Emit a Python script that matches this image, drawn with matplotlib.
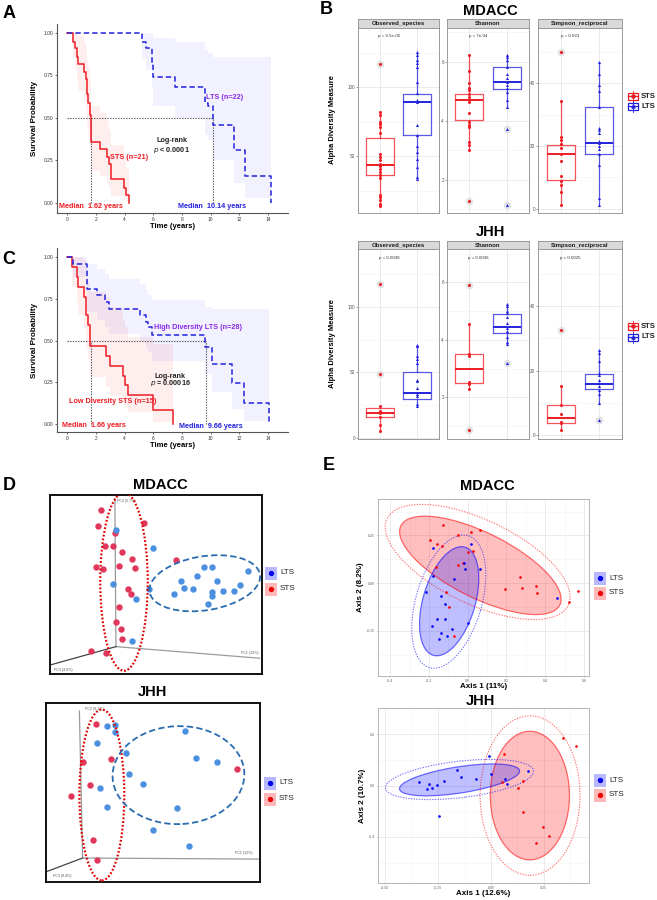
import numpy as np
import matplotlib
matplotlib.use("Agg")
import matplotlib.pyplot as plt
from matplotlib.patches import Ellipse, Rectangle

plt.rcParams["font.family"] = ["Liberation Sans", "DejaVu Sans"]
NARROW = ["Liberation Sans Narrow", "Liberation Sans", "DejaVu Sans"]

W, H = 657, 900
RED = "#ee1c24"
BLUE = "#2222dd"
PURPLE = "#8a2be2"
PT_RED = "#e2375c"
PT_BLUE = "#4b8fe0"

# ---------------- A: Kaplan-Meier, all patients ----------------
a_sts_t = [0, 0.42, 0.52, 0.66, 0.75, 1.13, 1.27, 1.36, 1.46, 1.55, 1.62, 2.3, 2.78, 2.94, 3.06, 3.93, 4.07, 4.3]
a_sts_s = [1.0, 0.95, 0.91, 0.86, 0.82, 0.77, 0.73, 0.64, 0.59, 0.52, 0.36, 0.32, 0.27, 0.23, 0.14, 0.09, 0.045, 0.0]
a_sts_lo = [1.0, 0.86, 0.79, 0.72, 0.66, 0.60, 0.55, 0.45, 0.40, 0.33, 0.19, 0.16, 0.12, 0.09, 0.04, 0.02, 0.005, 0.0]
a_sts_hi = [1.0, 1.0, 1.0, 1.0, 0.98, 0.95, 0.92, 0.85, 0.80, 0.74, 0.57, 0.53, 0.48, 0.43, 0.34, 0.27, 0.20, 0.20]
a_lts_t = [0, 5.18, 5.5, 5.9, 6.0, 7.5, 9.6, 9.8, 10.14, 11.65, 12.4, 14.2]
a_lts_s = [1.0, 0.95, 0.91, 0.83, 0.74, 0.68, 0.59, 0.57, 0.46, 0.31, 0.16, 0.0]
a_lts_lo = [1.0, 0.85, 0.78, 0.68, 0.57, 0.50, 0.40, 0.37, 0.25, 0.12, 0.03, 0.03]
a_lts_hi = [1.0, 1.0, 1.0, 1.0, 0.97, 0.95, 0.90, 0.88, 0.86, 0.86, 0.86, 0.86]
a_medians = [1.62, 10.14]

# ---------------- C: Kaplan-Meier, diversity groups ----------------
c_sts_t = [0, 0.35, 0.66, 0.75, 1.13, 1.3, 1.46, 1.6, 2.73, 3.0, 3.9, 4.0, 4.24, 6.0, 7.4]
c_sts_s = [1.0, 0.94, 0.88, 0.82, 0.76, 0.65, 0.59, 0.47, 0.41, 0.35, 0.29, 0.235, 0.175, 0.085, 0.0]
c_sts_lo = [1.0, 0.82, 0.73, 0.65, 0.57, 0.45, 0.39, 0.28, 0.22, 0.17, 0.13, 0.10, 0.07, 0.01, 0.01]
c_sts_hi = [1.0, 1.0, 1.0, 1.0, 0.98, 0.90, 0.85, 0.79, 0.76, 0.70, 0.62, 0.58, 0.52, 0.48, 0.48]
c_lts_t = [0, 0.42, 1.36, 2.1, 2.6, 2.94, 5.1, 5.46, 5.65, 5.93, 9.6, 10.07, 11.5, 12.35, 14.1]
c_lts_s = [1.0, 0.96, 0.81, 0.77, 0.73, 0.69, 0.65, 0.61, 0.58, 0.53, 0.46, 0.36, 0.245, 0.125, 0.0]
c_lts_lo = [1.0, 0.88, 0.67, 0.62, 0.58, 0.54, 0.50, 0.46, 0.43, 0.38, 0.30, 0.19, 0.09, 0.015, 0.015]
c_lts_hi = [1.0, 1.0, 0.96, 0.93, 0.90, 0.87, 0.84, 0.80, 0.77, 0.74, 0.70, 0.69, 0.69, 0.69, 0.69]
c_medians = [1.66, 9.66]

# ---------------- B: alpha diversity (box = whislo, q1, med, q3, whishi) ----------------
mdacc_obs_sts = [117, 82, 80, 75, 73, 71, 66.5, 51.5, 49.5, 47, 44.5, 43, 41, 38.5, 36, 34, 21.5, 20.5, 18, 15.5, 14]
mdacc_obs_sts_box = [14, 36.5, 43.5, 63, 82]
mdacc_obs_sts_out = [117]
mdacc_obs_lts = [125.5, 123.5, 120, 117.5, 115, 104, 95.5, 91, 89.5, 72.5, 65.5, 57.5, 53, 48, 42, 35, 33.5]
mdacc_obs_lts_box = [33.5, 65.3, 89, 95, 125.5]
mdacc_obs_lts_out = []
mdacc_sha_sts = [6.25, 5.7, 5.27, 5.1, 5.04, 4.93, 4.8, 4.7, 4.64, 4.28, 3.98, 3.87, 3.8, 3.3, 3.2, 3.0, 1.27]
mdacc_sha_sts_box = [3.0, 4.03, 4.7, 4.9, 6.25]
mdacc_sha_sts_out = [1.27]
mdacc_sha_lts = [6.25, 6.17, 6.06, 5.83, 5.58, 5.44, 5.32, 5.21, 5.13, 4.99, 4.7, 4.46, 3.71, 1.15]
mdacc_sha_lts_box = [4.46, 5.08, 5.33, 5.83, 6.25]
mdacc_sha_lts_out = [3.71, 1.15]
mdacc_sim_sts = [49.9, 34.2, 22.9, 22, 20.5, 19.5, 17.6, 15.2, 10.4, 8.8, 7.7, 5.3, 1.4]
mdacc_sim_sts_box = [1.4, 9.3, 17.6, 20.2, 34.2]
mdacc_sim_sts_out = [49.9]
mdacc_sim_lts = [46.6, 43, 39.5, 37.4, 32.4, 25.7, 25.2, 24.1, 21.5, 20.8, 20, 18.9, 17.6, 13.9, 3.5, 1.1]
mdacc_sim_lts_box = [1.1, 17.6, 20.8, 32.3, 46.6]
mdacc_sim_lts_out = []

jhh_obs_sts = [117, 48.8, 24.2, 20.4, 19, 15.7, 10, 5.6]
jhh_obs_sts_box = [5.6, 15.7, 19.3, 22.9, 24.2]
jhh_obs_sts_out = [117, 48.8]
jhh_obs_lts = [71.2, 70, 62.8, 60.3, 57.2, 44.5, 43.2, 38, 33.8, 32.3, 26.2, 24.2]
jhh_obs_lts_box = [24.2, 30, 34, 50.4, 71.2]
jhh_obs_lts_out = []
jhh_sha_sts = [5.92, 4.56, 3.5, 3.44, 2.54, 2.46, 2.29, 0.88]
jhh_sha_sts_box = [2.29, 2.5, 2.97, 3.5, 4.56]
jhh_sha_sts_out = [5.92, 0.88]
jhh_sha_lts = [5.26, 5.17, 5.02, 4.94, 4.8, 4.59, 4.42, 4.3, 4.1, 3.91, 3.84, 3.2]
jhh_sha_lts_box = [3.84, 4.25, 4.44, 4.91, 5.26]
jhh_sha_lts_out = [3.2]
jhh_sim_sts = [32.5, 15.1, 9.2, 6.3, 3.9, 3.5, 1.4]
jhh_sim_sts_box = [1.4, 3.6, 5.1, 9.4, 15.1]
jhh_sim_sts_out = [32.5]
jhh_sim_lts = [26.3, 25.4, 23.1, 19.2, 18.6, 17.1, 16, 15.2, 13.9, 12.7, 9.8, 4.5]
jhh_sim_lts_box = [9.8, 14.2, 15.9, 19, 26.3]
jhh_sim_lts_out = [4.5]

facet_names = ["Observed_species", "Shannon", "Simpson_reciprocal"]
mdacc_p = ["p = 9.5e-05", "p = 7e-04", "p = 0.023"]
jhh_p = ["p = 0.0038", "p = 0.0036", "p = 0.0025"]

# ---------------- D: 3D PCoA (positions inside the box, 0..1) ----------------
d1_red_u = [0.240, 0.228, 0.443, 0.306, 0.259, 0.295, 0.338, 0.386, 0.593, 0.217, 0.248, 0.327, 0.403, 0.369, 0.380, 0.325, 0.309, 0.334, 0.338, 0.195, 0.264]
d1_red_v = [0.916, 0.829, 0.845, 0.790, 0.717, 0.715, 0.683, 0.642, 0.637, 0.598, 0.585, 0.605, 0.590, 0.473, 0.445, 0.372, 0.292, 0.250, 0.194, 0.130, 0.119]
d1_blue_u = [0.309, 0.487, 0.725, 0.765, 0.934, 0.694, 0.620, 0.788, 0.298, 0.633, 0.675, 0.466, 0.895, 0.763, 0.816, 0.868, 0.584, 0.765, 0.408, 0.747, 0.389]
d1_blue_v = [0.803, 0.706, 0.600, 0.596, 0.574, 0.546, 0.520, 0.520, 0.503, 0.480, 0.473, 0.477, 0.495, 0.460, 0.462, 0.464, 0.449, 0.438, 0.419, 0.393, 0.182]
d1_origin = [0.311, 0.153]
d1_axis_ends = [[0.306, 0.981], [0.989, 0.088], [0.0, 0.050]]
d1_axis_labels = ["PC2 (5.7%)", "PC1 (12%)", "PC3 (4.9%)"]

d2_red_u = [0.233, 0.173, 0.305, 0.207, 0.115, 0.891, 0.221, 0.238]
d2_red_v = [0.885, 0.670, 0.685, 0.544, 0.479, 0.629, 0.236, 0.124]
d2_blue_u = [0.285, 0.323, 0.323, 0.650, 0.236, 0.372, 0.700, 0.799, 0.390, 0.453, 0.253, 0.285, 0.610, 0.499, 0.666]
d2_blue_v = [0.872, 0.878, 0.840, 0.842, 0.777, 0.720, 0.694, 0.670, 0.603, 0.549, 0.523, 0.421, 0.414, 0.288, 0.202]
d2_origin = [0.171, 0.134]
d2_axis_ends = [[0.156, 0.955], [0.992, 0.128], [0.005, 0.059]]
d2_axis_labels = ["PC2 (9.1%)", "PC1 (12%)", "PC3 (8.4%)"]

# ---------------- E: 2D PCoA ----------------
e1_red_x = [-0.127, -0.197, -0.160, -0.132, -0.050, 0.017, 0.063, 0.003, 0.029, -0.026, -0.050, -0.166, -0.111, -0.098, -0.069, 0.194, 0.269, 0.280, 0.352, 0.355, 0.523, 0.571]
e1_red_y = [0.307, 0.228, 0.205, 0.193, 0.253, 0.267, 0.277, 0.161, 0.168, 0.105, 0.093, 0.084, -0.049, -0.126, -0.275, -0.030, 0.032, -0.025, -0.016, -0.051, -0.100, -0.042]
e1_blue_x = [-0.182, 0.017, -0.017, -0.014, 0.065, -0.177, -0.072, -0.214, -0.136, -0.115, -0.117, -0.161, 0.002, -0.185, -0.139, -0.106, -0.079, -0.146, 0.461]
e1_blue_y = [0.182, 0.207, 0.107, 0.074, 0.072, 0.039, 0.021, -0.046, -0.070, -0.112, -0.189, -0.188, -0.207, -0.226, -0.260, -0.275, -0.242, -0.295, -0.079]

e2_red_x = [0.340, 0.403, 0.063, 0.051, 0.153, 0.128, 0.150, 0.245, 0.274, 0.215]
e2_red_y = [0.369, 0.309, 0.244, 0.029, 0.039, -0.023, -0.203, -0.325, -0.390, -0.444]
e2_blue_x = [-0.340, -0.293, -0.305, -0.280, -0.256, -0.223, -0.161, -0.142, -0.071, -0.011, 0.000, 0.068, 0.074, 0.174, -0.248]
e2_blue_y = [0.029, 0.010, -0.029, -0.023, 0.008, 0.034, 0.122, 0.065, 0.052, 0.231, 0.091, 0.049, 0.013, 0.112, -0.236]

fig = plt.figure(figsize=(W / 100, H / 100), dpi=100)
fig.patch.set_facecolor("white")


def px_axes(x0, y0, x1, y1):
    return fig.add_axes([x0 / W, 1 - y1 / H, (x1 - x0) / W, (y1 - y0) / H])


# overlay in pixel coordinates for labels / legends
ov = fig.add_axes([0, 0, 1, 1])
ov.set_xlim(0, W)
ov.set_ylim(H, 0)
ov.axis("off")
ov.set_zorder(20)
ov.patch.set_alpha(0)


def km_panel(box, ylim, sts, lts, medians, texts):
    ax = px_axes(*box)
    t, s, lo, hi = sts
    ax.fill_between(t, lo, hi, step="post", color="#ff3030", alpha=0.08, lw=0)
    t2, s2, lo2, hi2 = lts
    ax.fill_between(t2, lo2, hi2, step="post", color="#5050ff", alpha=0.08, lw=0)
    ax.plot([0, medians[1]], [0.5, 0.5], ls=(0, (1.2, 1.2)), color="#555555", lw=0.8)
    for m in medians:
        ax.plot([m, m], [0, 0.5], ls=(0, (1.2, 1.2)), color="#555555", lw=0.8)
    ax.step(t, s, where="post", color=RED, lw=1.1)
    ax.step(t2, s2, where="post", color=BLUE, lw=1.1, ls=(0, (3.5, 2)))
    ax.set_xlim(-0.72, 15.4)
    ax.set_ylim(*ylim)
    ax.set_xticks(range(0, 15, 2))
    ax.set_yticks([0, 0.25, 0.5, 0.75, 1.0])
    ax.set_yticklabels(["0.00", "0.25", "0.50", "0.75", "1.00"])
    ax.tick_params(labelsize=3.5, length=1.5, width=0.5, pad=1.2, colors="#333333")
    for sp in ["top", "right"]:
        ax.spines[sp].set_visible(False)
    for sp in ["left", "bottom"]:
        ax.spines[sp].set_color("#555555")
        ax.spines[sp].set_linewidth(0.8)
    ax.set_ylabel("Survival Probability", fontsize=5.8, fontweight="bold", labelpad=4)
    ax.set_xlabel("Time (years)", fontsize=5.5, fontweight="bold", labelpad=1)
    for x, y, txt, col in texts:
        ax.text(x, y, txt, color=col, fontsize=5.2, fontweight="bold", family=NARROW,
                ha="center", va="center")
    return ax


km_panel((57, 24, 288, 213), (-0.059, 1.053),
         (a_sts_t, a_sts_s, a_sts_lo, a_sts_hi), (a_lts_t, a_lts_s, a_lts_lo, a_lts_hi), a_medians,
         [(11.0, 0.62, "LTS (n=22)", PURPLE), (7.3, 0.367, "Log-rank", "#222222"),
          (7.25, 0.31, r"$\it{p}$ < 0.0001", "#222222"), (4.3, 0.265, "STS (n=21)", RED),
          (1.62, -0.02, "Median  1.62 years", RED), (10.1, -0.02, "Median  10.14 years", BLUE)])
km_panel((57, 248, 288, 432), (-0.048, 1.054),
         (c_sts_t, c_sts_s, c_sts_lo, c_sts_hi), (c_lts_t, c_lts_s, c_lts_lo, c_lts_hi), c_medians,
         [(9.15, 0.577, "High Diversity LTS (n=28)", PURPLE), (7.2, 0.287, "Log-rank", "#222222"),
          (7.2, 0.244, r"$\it{p}$ = 0.00016", "#222222"), (3.2, 0.134, "Low Diversity STS (n=15)", RED),
          (1.85, -0.01, "Median  1.66 years", RED), (10.0, -0.014, "Median  9.66 years", BLUE)])


# ---------------- B ----------------
def box_facet(xs, strip_y, body_y, name, ptxt, groups, ylim, yticks):
    ax = px_axes(xs[0], body_y[0], xs[1], body_y[1])
    ax.set_xlim(0.4, 2.6)
    ax.set_ylim(*ylim)
    minor = [(a + b) / 2 for a, b in zip(yticks[:-1], yticks[1:])]
    step = yticks[1] - yticks[0]
    minor = [yticks[0] - step / 2] + minor + [yticks[-1] + step / 2]
    for m in minor:
        ax.axhline(m, color="#f2f2f2", lw=0.4, zorder=0)
    for m in yticks:
        ax.axhline(m, color="#e6e6e6", lw=0.6, zorder=0)
    for xg in [1, 2]:
        ax.axvline(xg, color="#e6e6e6", lw=0.6, zorder=0)
    for pos, (pts, box, out, col, mk) in enumerate(groups, start=1):
        st = dict(whislo=box[0], q1=box[1], med=box[2], q3=box[3], whishi=box[4], fliers=[])
        ax.bxp([st], positions=[pos], widths=0.75, showcaps=False, showfliers=False,
               boxprops=dict(color=col, lw=0.9, alpha=0.75),
               whiskerprops=dict(color=col, lw=0.9, alpha=0.75),
               medianprops=dict(color=col, lw=1.4))
        if out:
            ax.plot([pos] * len(out), out, "o", ms=5.5, color="#dddddd", alpha=0.8, mec="none", zorder=3)
        ax.plot([pos] * len(pts), pts, mk, ms=2.2, color=col, mec="none", zorder=4)
    ax.set_xticks([])
    ax.set_yticks(yticks)
    ax.tick_params(axis="y", labelsize=3.3, length=1.2, width=0.4, pad=1, colors="#555555")
    for sp in ax.spines.values():
        sp.set_color("#9a9a9a")
        sp.set_linewidth(0.7)
    ax.text(0.38, 0.955, ptxt, transform=ax.transAxes, fontsize=3.2, ha="center", va="center", color="#333333")
    sa = px_axes(xs[0], strip_y[0], xs[1], strip_y[1])
    sa.set_facecolor("#d9d9d9")
    sa.set_xticks([])
    sa.set_yticks([])
    for sp in sa.spines.values():
        sp.set_color("#9a9a9a")
        sp.set_linewidth(0.7)
    sa.text(0.5, 0.45, name, transform=sa.transAxes, ha="center", va="center", fontsize=4.3, fontweight="bold",
            color="#1a1a1a")


facet_x = [(358, 439), (447, 529), (538, 622)]
mdacc_groups = [
    [(mdacc_obs_sts, mdacc_obs_sts_box, mdacc_obs_sts_out, RED, "o"), (mdacc_obs_lts, mdacc_obs_lts_box, mdacc_obs_lts_out, BLUE, "^")],
    [(mdacc_sha_sts, mdacc_sha_sts_box, mdacc_sha_sts_out, RED, "o"), (mdacc_sha_lts, mdacc_sha_lts_box, mdacc_sha_lts_out, BLUE, "^")],
    [(mdacc_sim_sts, mdacc_sim_sts_box, mdacc_sim_sts_out, RED, "o"), (mdacc_sim_lts, mdacc_sim_lts_box, mdacc_sim_lts_out, BLUE, "^")],
]
jhh_groups = [
    [(jhh_obs_sts, jhh_obs_sts_box, jhh_obs_sts_out, RED, "o"), (jhh_obs_lts, jhh_obs_lts_box, jhh_obs_lts_out, BLUE, "^")],
    [(jhh_sha_sts, jhh_sha_sts_box, jhh_sha_sts_out, RED, "o"), (jhh_sha_lts, jhh_sha_lts_box, jhh_sha_lts_out, BLUE, "^")],
    [(jhh_sim_sts, jhh_sim_sts_box, jhh_sim_sts_out, RED, "o"), (jhh_sim_lts, jhh_sim_lts_box, jhh_sim_lts_out, BLUE, "^")],
]
mdacc_ylims = [(8.7, 143), (0.88, 7.15), (-1.3, 57.5)]
jhh_ylims = [(-0.8, 144), (0.55, 7.16), (-1.35, 57.9)]
mdacc_ticks = [[50, 100], [2, 4, 6], [0, 20, 40]]
jhh_ticks = [[0, 50, 100], [2, 4, 6], [0, 20, 40]]

for i in range(3):
    box_facet(facet_x[i], (19, 28), (28, 213), facet_names[i], mdacc_p[i], mdacc_groups[i], mdacc_ylims[i], mdacc_ticks[i])
    box_facet(facet_x[i], (241, 249), (249, 439), facet_names[i], jhh_p[i], jhh_groups[i], jhh_ylims[i], jhh_ticks[i])

for yc in [120, 343]:
    ov.text(333, yc, "Alpha Diversity Measure", rotation=90, fontsize=5.5, fontweight="bold", ha="center", va="center")


def box_legend(x, y, col, mk, label):
    ov.add_patch(Rectangle((x, y - 3.5), 10, 7, fill=False, ec=col, lw=0.9))
    ov.plot([x, x + 10], [y, y], color=col, lw=0.9)
    ov.plot([x + 5, x + 5], [y - 5.5, y + 5.5], color=col, lw=0.6)
    ov.plot([x + 5], [y], mk, color=col, ms=2.3)
    ov.text(x + 13, y, label, fontsize=5.5, fontweight="bold", ha="left", va="center", color="#222222")


box_legend(628, 96, RED, "o", "STS")
box_legend(628, 106, BLUE, "^", "LTS")
box_legend(628, 326, RED, "o", "STS")
box_legend(628, 337, BLUE, "^", "LTS")


# ---------------- D ----------------
def pcoa3d(box, red, blue, origin, ends, labels, label_pos, ell_red, ell_blue):
    ax = px_axes(*box)
    ax.set_xlim(0, 1)
    ax.set_ylim(0, 1)
    ax.set_xticks([])
    ax.set_yticks([])
    for sp in ax.spines.values():
        sp.set_color("#111111")
        sp.set_linewidth(1.4)
    for (ex, ey), c in zip(ends, ["#9a9a9a", "#9a9a9a", "#444444"]):
        ax.plot([origin[0], ex], [origin[1], ey], color=c, lw=0.9, zorder=1)
    for (lx, ly), txt in zip(label_pos, labels):
        ax.text(lx, ly, txt, fontsize=2.6, color="#555555", ha="center", va="center")
    ax.plot(red[0], red[1], "o", ms=4.6, color=PT_RED, mec="none", zorder=3)
    ax.plot(blue[0], blue[1], "o", ms=4.6, color=PT_BLUE, mec="none", zorder=3)
    cx, cy, w, h, a = ell_red
    ax.add_patch(Ellipse((cx, cy), w, h, angle=a, fill=False, ec="#e00000", lw=1.6, ls=(0, (0.8, 0.9)), zorder=4))
    cx, cy, w, h, a = ell_blue
    ax.add_patch(Ellipse((cx, cy), w, h, angle=a, fill=False, ec="#2b6cb0", lw=1.3, ls=(0, (3.5, 1.8)), zorder=4))
    return ax


pcoa3d((50, 495, 262, 674), (d1_red_u, d1_red_v), (d1_blue_u, d1_blue_v), d1_origin, d1_axis_ends,
       d1_axis_labels, [(0.361, 0.968), (0.942, 0.119), (0.063, 0.022)],
       (0.349, 0.516, 0.224, 0.996, 0), (0.730, 0.507, 0.53, 0.30, 12))
pcoa3d((46, 703, 260, 882), (d2_red_u, d2_red_v), (d2_blue_u, d2_blue_v), d2_origin, d2_axis_ends,
       d2_axis_labels, [(0.226, 0.968), (0.922, 0.161), (0.075, 0.031)],
       (0.261, 0.486, 0.21, 0.955, 0), (0.619, 0.597, 0.616, 0.547, 4))


def dot_legend(x, y, fillc, dotc, label):
    ov.add_patch(Rectangle((x, y - 6.5), 12, 13, color=fillc, lw=0))
    ov.plot([x + 6], [y], "o", ms=2.8, color=dotc)
    ov.text(x + 15, y, label, fontsize=5.8, ha="left", va="center", color="#222222")


dot_legend(265, 573, "#b8b8ff", "#0000ee", "LTS")
dot_legend(265, 589, "#ffb8b8", "#ee0000", "STS")
dot_legend(264, 783, "#b8b8ff", "#0000ee", "LTS")
dot_legend(264, 799, "#ffb8b8", "#ee0000", "STS")


# ---------------- E ----------------
def pcoa2d(box, xlim, ylim, xticks, xtl, yticks, ytl, red, blue, ells, xlabel, ylabel):
    ax = px_axes(*box)
    ax.set_xlim(*xlim)
    ax.set_ylim(*ylim)
    xm = [(a + b) / 2 for a, b in zip(xticks[:-1], xticks[1:])]
    ym = [(a + b) / 2 for a, b in zip(yticks[:-1], yticks[1:])]
    dx = xticks[1] - xticks[0]
    dy = yticks[1] - yticks[0]
    for m in [xticks[0] - dx / 2] + xm + [xticks[-1] + dx / 2]:
        ax.axvline(m, color="#f3f3f3", lw=0.4, zorder=0)
    for m in [yticks[0] - dy / 2] + ym + [yticks[-1] + dy / 2]:
        ax.axhline(m, color="#f3f3f3", lw=0.4, zorder=0)
    for m in xticks:
        ax.axvline(m, color="#e8e8e8", lw=0.6, zorder=0)
    for m in yticks:
        ax.axhline(m, color="#e8e8e8", lw=0.6, zorder=0)
    for (cx, cy, w, h, a), col, kind in ells:
        if kind == "fill":
            ax.add_patch(Ellipse((cx, cy), w, h, angle=a, fc=col, alpha=0.25, ec="none", zorder=1))
            ax.add_patch(Ellipse((cx, cy), w, h, angle=a, fill=False, ec=col, alpha=0.55, lw=0.9, zorder=2))
        else:
            ax.add_patch(Ellipse((cx, cy), w, h, angle=a, fill=False, ec=col, alpha=0.55, lw=0.8,
                                 ls=(0, (1.2, 1.2)), zorder=2))
    ax.plot(red[0], red[1], "o", ms=1.9, color="#ff0000", mec="none", zorder=3)
    ax.plot(blue[0], blue[1], "o", ms=1.9, color="#0000ff", mec="none", zorder=3)
    ax.set_xticks(xticks)
    ax.set_xticklabels(xtl)
    ax.set_yticks(yticks)
    ax.set_yticklabels(ytl)
    ax.tick_params(labelsize=2.6, length=1, width=0.4, pad=1, colors="#666666")
    for sp in ax.spines.values():
        sp.set_color("#b5b5b5")
        sp.set_linewidth(0.7)
    ax.set_xlabel(xlabel, fontsize=5.8, fontweight="bold", labelpad=0.5)
    ax.set_ylabel(ylabel, fontsize=5.8, fontweight="bold", labelpad=2)
    return ax


pcoa2d((378, 499, 589, 676), (-0.4635, 0.626), (-0.487, 0.441),
       [-0.4, -0.2, 0.0, 0.2, 0.4, 0.6], ["-0.4", "-0.2", "0.0", "0.2", "0.4", "0.6"],
       [-0.25, 0.0, 0.25], ["-0.25", "0.00", "0.25"],
       (e1_red_x, e1_red_y), (e1_blue_x, e1_blue_y),
       [((0.065, 0.093, 0.92, 0.34, -27), "#ff0000", "fill"),
        ((0.051, 0.111, 1.04, 0.44, -26), "#ff0000", "dot"),
        ((-0.096, -0.095, 0.59, 0.27, 74), "#0000ff", "fill"),
        ((-0.098, -0.097, 0.72, 0.34, 74), "#0000ff", "dot")],
       "Axis 1 (11%)", "Axis 2 (8.2%)")
pcoa2d((378, 708, 589, 883), (-0.535, 0.464), (-0.758, 0.603),
       [-0.5, -0.25, 0.0, 0.25], ["-0.50", "-0.25", "0.00", "0.25"],
       [-0.4, 0.0, 0.4], ["-0.4", "0.0", "0.4"],
       (e2_red_x, e2_red_y), (e2_blue_x, e2_blue_y),
       [((0.184, -0.078, 0.375, 1.0, 0), "#ff0000", "fill"),
        ((0.185, -0.078, 0.473, 1.24, 0), "#ff0000", "dot"),
        ((-0.149, 0.044, 0.587, 0.2, 15.4), "#0000ff", "fill"),
        ((-0.149, 0.047, 0.715, 0.28, 12.2), "#0000ff", "dot")],
       "Axis 1 (12.6%)", "Axis 2 (10.7%)")

dot_legend(594, 578, "#b8b8ff", "#0000ee", "LTS")
dot_legend(594, 593, "#ffb8b8", "#ee0000", "STS")
dot_legend(594, 780, "#b8b8ff", "#0000ee", "LTS")
dot_legend(594, 795, "#ffb8b8", "#ee0000", "STS")

# titles and panel letters
for x, y, txt in [(490, 11, "MDACC"), (490, 232, "JHH"), (160, 485, "MDACC"), (152, 692, "JHH"),
                  (487, 486, "MDACC"), (480, 701, "JHH")]:
    ov.text(x, y, txt, fontsize=10.5, fontweight="bold", ha="center", va="center")
for x, y, txt in [(9, 14, "A"), (326, 10, "B"), (9, 260, "C"), (9, 485, "D"), (329, 466, "E")]:
    ov.text(x, y, txt, fontsize=13, fontweight="bold", ha="center", va="center")

fig.savefig("out.png", dpi=100)
